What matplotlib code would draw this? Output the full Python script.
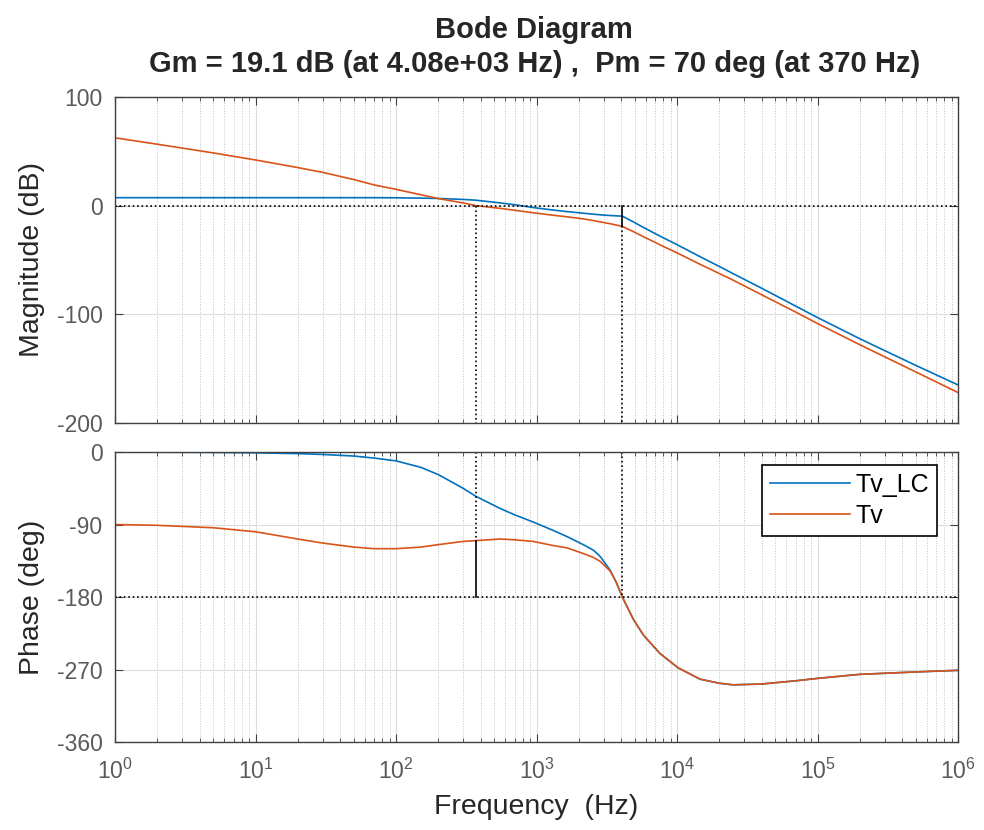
import matplotlib.pyplot as plt
from matplotlib.ticker import LogLocator, NullFormatter

# frequencies (Hz)
freq = [1, 2, 5, 10, 20, 30, 50, 70, 100, 150, 200, 300, 370, 550, 700, 950,
        1300, 1650, 2150, 2550, 2850, 3350, 3700, 4080, 4900, 5750, 7550,
        10200, 14600, 20000, 25000, 40000, 70000, 1e5, 2e5, 5e5, 1e6]

mag_tv_lc = [7.3, 7.3, 7.3, 7.3, 7.3, 7.3, 7.3, 7.3, 7.2, 6.9, 6.6, 5.7, 5.0,
             2.5, 0.8, -1.8, -4.0, -5.5, -7.0, -7.9, -8.5, -9.1, -9.4, -9.7,
             -15, -20, -28, -36.5, -47, -56, -62.5, -76, -92.5, -103, -122.5,
             -147, -165]
mag_tv = [62.4, 56.5, 48.5, 42, 35, 30.6, 24, 19, 15, 10, 6.5, 2.5, 0, -2.5,
          -4.3, -6.6, -8.8, -10.3, -12.2, -13.8, -15, -16.7, -17.9, -19.1,
          -24, -28.5, -36, -44, -54, -62.5, -68.5, -82, -98, -108.5, -128,
          -153, -172]

phase_tv_lc = [0, -0.2, -0.5, -1, -2, -3, -5, -7.5, -11, -19, -28, -45, -55,
               -70, -78, -87, -97, -105, -115, -122, -130, -147, -162, -180,
               -208, -227, -250, -268, -282, -287, -289, -288, -284, -281,
               -276, -273, -271]
phase_tv = [-90, -91, -94, -99, -108, -113, -118, -120, -120, -118, -115,
            -111, -110, -108, -109, -111, -116, -119, -126, -131, -136, -148,
            -162, -180, -208, -227, -250, -268, -282, -287, -289, -288, -284,
            -281, -276, -273, -271]

decades = [1, 10, 100, 1e3, 1e4, 1e5, 1e6]
decade_labels = ['$10^{%d}$' % i for i in range(7)]

gm_freq, gm_db = 4080, 19.1
pm_freq, pm_deg = 370, 70

blue = '#0072BD'
orange = '#D95319'
grey = '#262626'

plt.rcParams['font.family'] = ['Liberation Sans', 'DejaVu Sans']
plt.rcParams['axes.unicode_minus'] = False
plt.rcParams['mathtext.fontset'] = 'custom'
plt.rcParams['mathtext.rm'] = 'Liberation Sans'
plt.rcParams['mathtext.it'] = 'Liberation Sans'

fig = plt.figure(figsize=(9.84, 8.3), dpi=100)
ax1 = fig.add_axes([0.1169, 0.4904, 0.8567, 0.3928])
ax2 = fig.add_axes([0.1169, 0.1060, 0.8567, 0.3494])

for ax in (ax1, ax2):
    ax.set_xscale('log')
    ax.set_xlim(1, 1e6)
    ax.set_xticks(decades)
    ax.xaxis.set_minor_locator(LogLocator(base=10, subs=range(2, 10), numticks=20))
    ax.xaxis.set_minor_formatter(NullFormatter())
    ax.grid(True, which='major', color='#dcdcdc', lw=0.8, ls='-')
    ax.grid(True, which='minor', axis='x', color='#c0c0c0', lw=0.7, ls=':')
    ax.tick_params(which='both', direction='in', top=True, right=True,
                   colors='#404040', labelcolor='#5a5a5a', labelsize=16.5)
    ax.tick_params(which='major', length=6, pad=9)
    ax.tick_params(which='minor', length=3)
    for s in ax.spines.values():
        s.set_color('#404040')
        s.set_linewidth(1.0)
    ax.set_axisbelow(True)

# magnitude
ax1.plot(freq, mag_tv_lc, color=blue, lw=1.2)
ax1.plot(freq, mag_tv, color=orange, lw=1.2)
ax1.axhline(0, color='k', ls=':', lw=1.2)
ax1.plot([pm_freq, pm_freq], [0, -200], color='k', ls=':', lw=1.2)
ax1.plot([gm_freq, gm_freq], [-gm_db, -200], color='k', ls=':', lw=1.2)
ax1.plot([gm_freq, gm_freq], [0, -gm_db], color='k', lw=1.2)
ax1.set_ylim(-200, 100)
ax1.set_yticks([100, 0, -100, -200])
ax1.set_xticklabels([])
ax1.set_ylabel('Magnitude (dB)', fontsize=20.5, color=grey)

# phase
l1, = ax2.plot(freq, phase_tv_lc, color=blue, lw=1.2, label='Tv_LC')
l2, = ax2.plot(freq, phase_tv, color=orange, lw=1.2, label='Tv')
ax2.axhline(-180, color='k', ls=':', lw=1.2)
ax2.plot([pm_freq, pm_freq], [0, -180 + pm_deg], color='k', ls=':', lw=1.2)
ax2.plot([pm_freq, pm_freq], [-180, -180 + pm_deg], color='k', lw=1.2)
ax2.plot([gm_freq, gm_freq], [0, -180], color='k', ls=':', lw=1.2)
ax2.set_ylim(-360, 0)
ax2.set_yticks([0, -90, -180, -270, -360])
ax2.set_xticklabels(decade_labels)
ax2.tick_params(axis='x', pad=12)
ax2.set_ylabel('Phase (deg)', fontsize=20.5, color=grey)
ax2.set_xlabel('Frequency  (Hz)', fontsize=20.5, color=grey, labelpad=7)

for ax in (ax1, ax2):
    ax.yaxis.set_label_coords(-0.083, 0.5)

leg = ax2.legend(handles=[l1, l2], loc='upper right', bbox_to_anchor=(0.975, 0.955),
                 fontsize=18, handlelength=3.2, handletextpad=0.25, fancybox=False,
                 framealpha=1, borderaxespad=0, borderpad=0.3, labelspacing=0.3)
leg.get_frame().set_edgecolor('k')
leg.get_frame().set_linewidth(1.2)

fig.text(0.543, 0.981, 'Bode Diagram\nGm = 19.1 dB (at 4.08e+03 Hz) ,  Pm = 70 deg (at 370 Hz)',
         ha='center', va='top', fontsize=21, fontweight='bold', color=grey,
         linespacing=1.3)

fig.savefig('out.png', dpi=100)
